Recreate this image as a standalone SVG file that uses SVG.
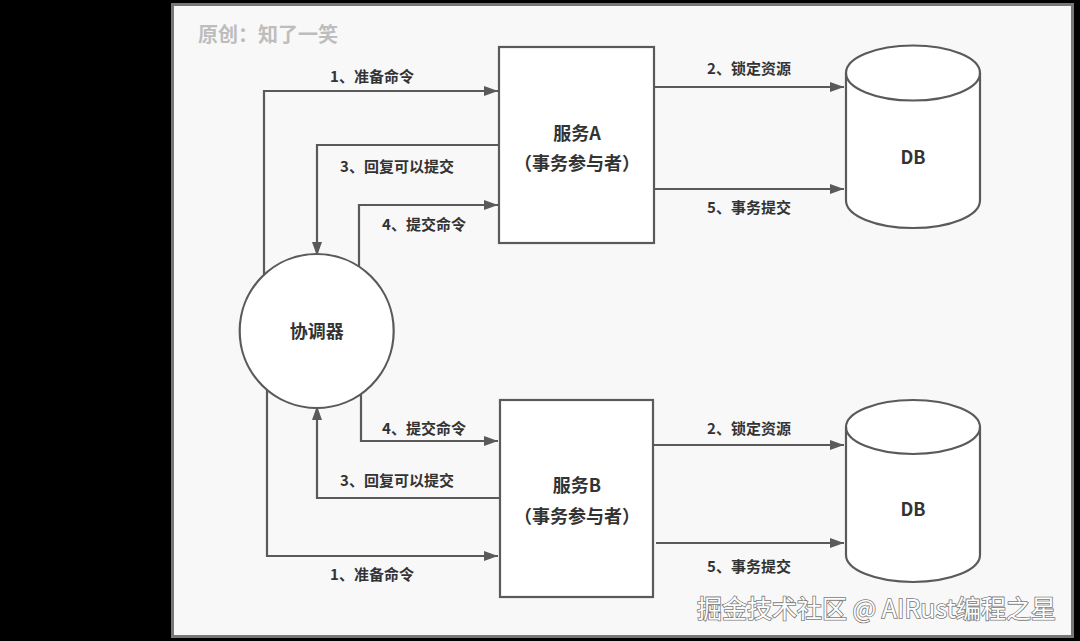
<svg xmlns="http://www.w3.org/2000/svg" width="1080" height="641" viewBox="0 0 1080 641">
  <style>
    .lbl { font-family: "Noto Sans CJK SC", "Noto Sans", sans-serif; font-weight: bold; font-size: 15px; fill: #333; text-anchor: middle; dominant-baseline: central; }
    .big { font-family: "Noto Sans CJK SC", "Noto Sans", sans-serif; font-weight: bold; font-size: 18px; fill: #333; text-anchor: middle; dominant-baseline: central; }
    .shape { fill: #fff; stroke: #5a5a5a; stroke-width: 2.2; }
    .conn { fill: none; stroke: #5a5a5a; stroke-width: 2.2; }
  </style>
  <defs>
    <marker id="arr" markerUnits="userSpaceOnUse" markerWidth="15" markerHeight="11" refX="14" refY="5" orient="auto">
      <path d="M0,0 L14,5 L0,10 Z" fill="#5a5a5a"/>
    </marker>
  </defs>
  <rect x="0" y="0" width="1080" height="641" fill="#000"/>
  <rect x="172.5" y="4.5" width="900" height="632" fill="#f8f8f8" stroke="#777" stroke-width="3"/>
  <text x="198" y="33" style="font-family: 'Noto Sans CJK SC', sans-serif; font-weight: bold; font-size: 20px; fill: #bdbdbd; dominant-baseline: central;">原创：知了一笑</text>

  <g id="connectors">
    <path class="conn" d="M264,275 V91 H498" marker-end="url(#arr)"/>
    <path class="conn" d="M499,145 H317 V256" marker-end="url(#arr)"/>
    <path class="conn" d="M359,267 V205 H498" marker-end="url(#arr)"/>
    <path class="conn" d="M654,87 H844" marker-end="url(#arr)"/>
    <path class="conn" d="M654,189 H844" marker-end="url(#arr)"/>
    <path class="conn" d="M361,394 V441 H498" marker-end="url(#arr)"/>
    <path class="conn" d="M499,498 H317 V406" marker-end="url(#arr)"/>
    <path class="conn" d="M267,390 V556 H498" marker-end="url(#arr)"/>
    <path class="conn" d="M654,445 H844" marker-end="url(#arr)"/>
    <path class="conn" d="M656,543 H844" marker-end="url(#arr)"/>
    <text class="lbl" x="372" y="75">1、准备命令</text>
    <text class="lbl" x="397" y="165">3、回复可以提交</text>
    <text class="lbl" x="424" y="223">4、提交命令</text>
    <text class="lbl" x="749" y="67">2、锁定资源</text>
    <text class="lbl" x="749" y="206">5、事务提交</text>
    <text class="lbl" x="424" y="427">4、提交命令</text>
    <text class="lbl" x="397" y="479">3、回复可以提交</text>
    <text class="lbl" x="372" y="573">1、准备命令</text>
    <text class="lbl" x="749" y="427">2、锁定资源</text>
    <text class="lbl" x="749" y="565">5、事务提交</text>
  </g>

  <g id="serviceA">
    <rect class="shape" x="499" y="47" width="155" height="196"/>
    <text class="big" x="577" y="132">服务A</text>
    <text class="big" x="577" y="162">（事务参与者）</text>
  </g>
  <g id="serviceB">
    <rect class="shape" x="500" y="400" width="153" height="197"/>
    <text class="big" x="577" y="484">服务B</text>
    <text class="big" x="577" y="515">（事务参与者）</text>
  </g>
  <g id="coordinator">
    <circle class="shape" cx="316.7" cy="331" r="77"/>
    <text class="big" x="316.7" y="330">协调器</text>
  </g>
  <g id="dbA">
    <path class="shape" d="M846,73 V200.5 A67,27.5 0 0 0 980,200.5 V73 A67,27.5 0 0 0 846,73 Z"/>
    <path class="conn" d="M846,73 A67,27.5 0 0 0 980,73"/>
    <text class="big" x="913" y="156">DB</text>
  </g>
  <g id="dbB">
    <path class="shape" d="M846,427 V555 A67,27 0 0 0 980,555 V427 A67,27 0 0 0 846,427 Z"/>
    <path class="conn" d="M846,427 A67,27 0 0 0 980,427"/>
    <text class="big" x="913" y="508">DB</text>
  </g>

  <text x="697" y="607" style="font-family: 'Noto Sans CJK SC', sans-serif; font-size: 25px; fill: #fff; stroke: #7a7a7a; stroke-width: 1.6; paint-order: stroke; dominant-baseline: central;">掘金技术社区 @ AIRust编程之星</text>
</svg>
